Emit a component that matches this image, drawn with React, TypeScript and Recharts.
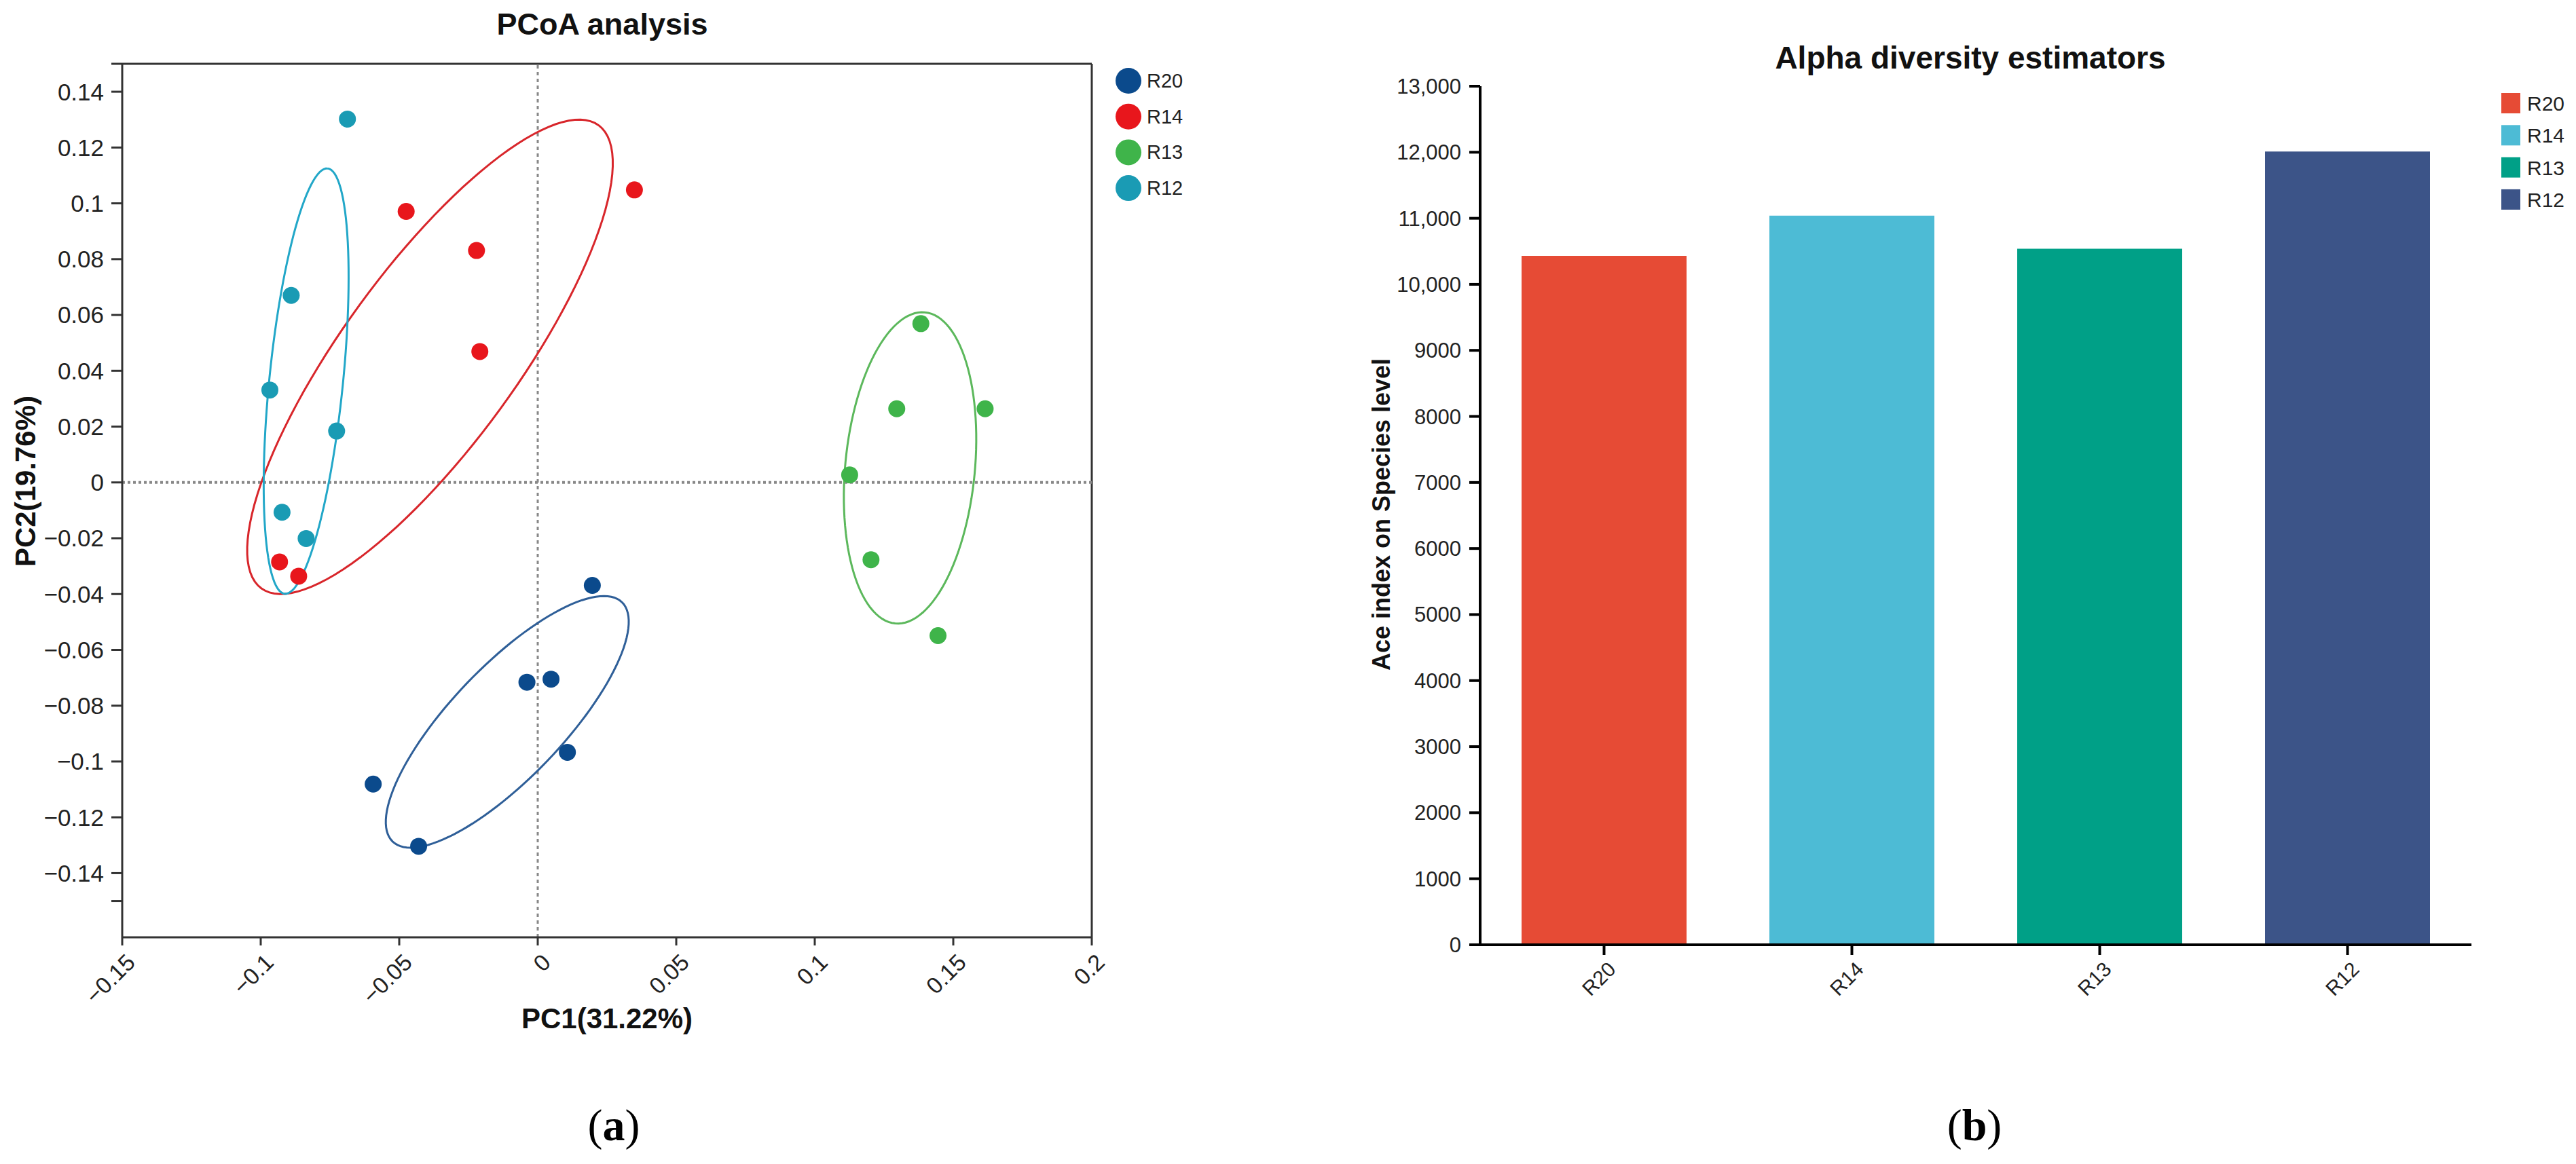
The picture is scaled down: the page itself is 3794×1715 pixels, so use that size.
import React from "react";
import {
  ScatterChart, Scatter, BarChart, Bar, Cell, XAxis, YAxis, ReferenceLine,
} from "recharts";

// ---- PCoA (panel a) ----
const GROUPS = ["R20", "R14", "R13", "R12"];
const POINT_COLORS = ["#0b4a8c", "#e8161c", "#3fb44a", "#1a9bb4"];
const ELLIPSE_COLORS = ["#2f5f98", "#d8262b", "#5cb85c", "#22a7c8"];

const R20_PC1 = [0.0197, -0.0039, 0.0048, 0.0107, -0.0594, -0.043];
const R20_PC2 = [-0.0369, -0.0716, -0.0705, -0.0967, -0.1081, -0.1304];
const R14_PC1 = [-0.0475, -0.0221, -0.0209, 0.0349, -0.0932, -0.0863];
const R14_PC2 = [0.0971, 0.0831, 0.0469, 0.1048, -0.0285, -0.0336];
const R13_PC1 = [0.1383, 0.1296, 0.1615, 0.1126, 0.1203, 0.1445];
const R13_PC2 = [0.0569, 0.0264, 0.0264, 0.0027, -0.0277, -0.0549];
const R12_PC1 = [-0.0687, -0.089, -0.0967, -0.0726, -0.0923, -0.0836];
const R12_PC2 = [0.1302, 0.067, 0.0331, 0.0184, -0.0107, -0.0201];

// confidence ellipses (centre, semi axes, tilt in degrees)
const ELL_CX = [-0.011, -0.0389, 0.1344, -0.0836];
const ELL_CY = [-0.0858, 0.045, 0.0052, 0.0363];
const ELL_A = [0.0596, 0.1029, 0.056, 0.0766];
const ELL_B = [0.0201, 0.0315, 0.0234, 0.0133];
const ELL_ANGLE = [46, 53.7, 84.5, 84.2];

const X_TICKS = [-0.15, -0.1, -0.05, 0, 0.05, 0.1, 0.15, 0.2];
const X_TICK_LABELS = ["−0.15", "−0.1", "−0.05", "0", "0.05", "0.1", "0.15", "0.2"];
const Y_TICKS = [-0.15, -0.14, -0.12, -0.1, -0.08, -0.06, -0.04, -0.02, 0, 0.02, 0.04, 0.06, 0.08, 0.1, 0.12, 0.14, 0.15];
const Y_TICK_LABELS = ["", "−0.14", "−0.12", "−0.1", "−0.08", "−0.06", "−0.04", "−0.02", "0", "0.02", "0.04", "0.06", "0.08", "0.1", "0.12", "0.14", ""];

// ---- Alpha diversity (panel b) ----
const SAMPLES = ["R20", "R14", "R13", "R12"];
const ACE_VALUES = [10430, 11040, 10540, 12010];
const BAR_COLORS = ["#e64b35", "#4dbbd5", "#00a087", "#3c5488"];
const ACE_TICKS = [0, 1000, 2000, 3000, 4000, 5000, 6000, 7000, 8000, 9000, 10000, 11000, 12000, 13000];
const ACE_TICK_LABELS = ["0", "1000", "2000", "3000", "4000", "5000", "6000", "7000", "8000", "9000", "10,000", "11,000", "12,000", "13,000"];

const FONT = "Arial, 'Liberation Sans', Helvetica, sans-serif";
const SERIF = "'Times New Roman', 'Liberation Serif', serif";

const pointSets = [
  [R20_PC1, R20_PC2], [R14_PC1, R14_PC2], [R13_PC1, R13_PC2], [R12_PC1, R12_PC2],
].map(([xs, ys]) => xs.map((x, i) => ({ x, y: ys[i] })));

function ellipseOutline(i: number) {
  const th = (ELL_ANGLE[i] * Math.PI) / 180;
  const pts = [];
  for (let k = 0; k <= 120; k++) {
    const t = (k / 120) * 2 * Math.PI;
    const u = ELL_A[i] * Math.cos(t);
    const v = ELL_B[i] * Math.sin(t);
    pts.push({ x: ELL_CX[i] + u * Math.cos(th) - v * Math.sin(th), y: ELL_CY[i] + u * Math.sin(th) + v * Math.cos(th) });
  }
  return pts;
}

const barRows = SAMPLES.map((name, i) => ({ name, ace: ACE_VALUES[i] }));

function PcoaXTick(props: any) {
  const { x, y, payload } = props;
  const label = X_TICK_LABELS[X_TICKS.indexOf(payload.value)] ?? "";
  const ax = x + 4, ay = y + 8;
  return (
    <text x={ax} y={ay} transform={`rotate(-45 ${ax} ${ay})`} textAnchor="end" dy="0.71em"
      fontSize={34} fill="#222" fontFamily={FONT}>{label}</text>
  );
}

function BarXTick(props: any) {
  const { x, y, payload } = props;
  const ax = x + 4, ay = y + 6;
  return (
    <text x={ax} y={ay} transform={`rotate(-45 ${ax} ${ay})`} textAnchor="end" dy="0.71em"
      fontSize={30} fill="#222" fontFamily={FONT}>{payload.value}</text>
  );
}

const Dot = (color: string) => (p: any) => <circle cx={p.cx} cy={p.cy} r={12.5} fill={color} />;
const NoDot = () => <g />;

export default function App() {
  const AX = "#333";
  return (
    <div style={{ position: "absolute", left: 0, top: 0, width: 3794, height: 1715, background: "#fff", overflow: "hidden" }}>
      {/* (a) PCoA */}
      <div style={{ position: "absolute", left: 0, top: 0 }}>
        <ScatterChart width={1900} height={1715} margin={{ top: 94, right: 292, bottom: 234, left: 60 }}>
          <XAxis type="number" dataKey="x" domain={[-0.15, 0.2]} ticks={X_TICKS} interval={0} height={100}
            tickSize={12} tick={<PcoaXTick />} axisLine={{ stroke: AX, strokeWidth: 3 }} tickLine={{ stroke: AX, strokeWidth: 3 }} allowDataOverflow />
          <YAxis type="number" dataKey="y" domain={[-0.163, 0.15]} ticks={Y_TICKS} interval={0} width={120}
            tickSize={16} tickMargin={11} allowDataOverflow
            tickFormatter={(v: number) => Y_TICK_LABELS[Y_TICKS.indexOf(v)] ?? ""}
            tick={{ fill: "#222", fontSize: 35, fontFamily: FONT }}
            axisLine={{ stroke: AX, strokeWidth: 3 }} tickLine={{ stroke: AX, strokeWidth: 3 }} />
          <ReferenceLine y={0.15} stroke={AX} strokeWidth={3} />
          <ReferenceLine x={0.2} stroke={AX} strokeWidth={3} />
          <ReferenceLine x={0} stroke="#888" strokeWidth={3} strokeDasharray="5 5" />
          <ReferenceLine y={0} stroke="#888" strokeWidth={4} strokeDasharray="4 4" />
          {GROUPS.map((g, i) => (
            <Scatter key={"e" + g} data={ellipseOutline(i)} line={{ stroke: ELLIPSE_COLORS[i], strokeWidth: 3 }}
              lineType="joint" shape={NoDot} isAnimationActive={false} />
          ))}
          {GROUPS.map((g, i) => (
            <Scatter key={g} name={g} data={pointSets[i]} shape={Dot(POINT_COLORS[i])} isAnimationActive={false} />
          ))}
        </ScatterChart>
      </div>

      {/* (b) Alpha diversity */}
      <div style={{ position: "absolute", left: 1900, top: 0 }}>
        <BarChart width={1894} height={1715} data={barRows} margin={{ top: 127, right: 154, bottom: 223, left: 160 }} barSize={243}>
          <XAxis dataKey="name" interval={0} height={100} tickSize={15} tick={<BarXTick />}
            axisLine={{ stroke: "#000", strokeWidth: 4 }} tickLine={{ stroke: "#000", strokeWidth: 4 }} />
          <YAxis domain={[0, 13000]} ticks={ACE_TICKS} interval={0} width={120} tickSize={16} tickMargin={12}
            tickFormatter={(v: number) => ACE_TICK_LABELS[ACE_TICKS.indexOf(v)] ?? ""}
            tick={{ fill: "#222", fontSize: 31, fontFamily: FONT }}
            axisLine={{ stroke: "#000", strokeWidth: 4 }} tickLine={{ stroke: "#000", strokeWidth: 4 }} />
          <Bar dataKey="ace" isAnimationActive={false}>
            {barRows.map((r, i) => <Cell key={r.name} fill={BAR_COLORS[i]} />)}
          </Bar>
        </BarChart>
      </div>

      {/* titles, legends, captions */}
      <svg width={3794} height={1715} style={{ position: "absolute", left: 0, top: 0, pointerEvents: "none" }} fontFamily={FONT}>
        <text x={887} y={51} textAnchor="middle" fontSize={45} fontWeight="bold" fill="#111">PCoA analysis</text>
        <text x={894} y={1515} textAnchor="middle" fontSize={42} fontWeight="bold" fill="#111">PC1(31.22%)</text>
        <text x={52} y={709} transform="rotate(-90 52 709)" textAnchor="middle" fontSize={42} fontWeight="bold" fill="#111">PC2(19.76%)</text>
        {GROUPS.map((g, i) => (
          <g key={g}>
            <circle cx={1662} cy={119 + i * 52.7} r={19} fill={POINT_COLORS[i]} />
            <text x={1689} y={119 + i * 52.7 + 10} fontSize={29} fill="#222">{g}</text>
          </g>
        ))}

        <text x={2902} y={101} textAnchor="middle" fontSize={46} fontWeight="bold" fill="#111">Alpha diversity estimators</text>
        <text x={2047} y={758} transform="rotate(-90 2047 758)" textAnchor="middle" fontSize={36} fontWeight="bold" fill="#111">Ace index on Species level</text>
        {SAMPLES.map((s, i) => (
          <g key={s}>
            <rect x={3684} y={137 + i * 47.3} width={28} height={30} fill={BAR_COLORS[i]} />
            <text x={3722} y={152 + i * 47.3 + 11} fontSize={30} fill="#222">{s}</text>
          </g>
        ))}

        <text x={904} y={1680} textAnchor="middle" fontSize={66} fontFamily={SERIF} fill="#000">
          (<tspan fontWeight="bold">a</tspan>)
        </text>
        <text x={2908} y={1680} textAnchor="middle" fontSize={66} fontFamily={SERIF} fill="#000">
          (<tspan fontWeight="bold">b</tspan>)
        </text>
      </svg>
    </div>
  );
}
